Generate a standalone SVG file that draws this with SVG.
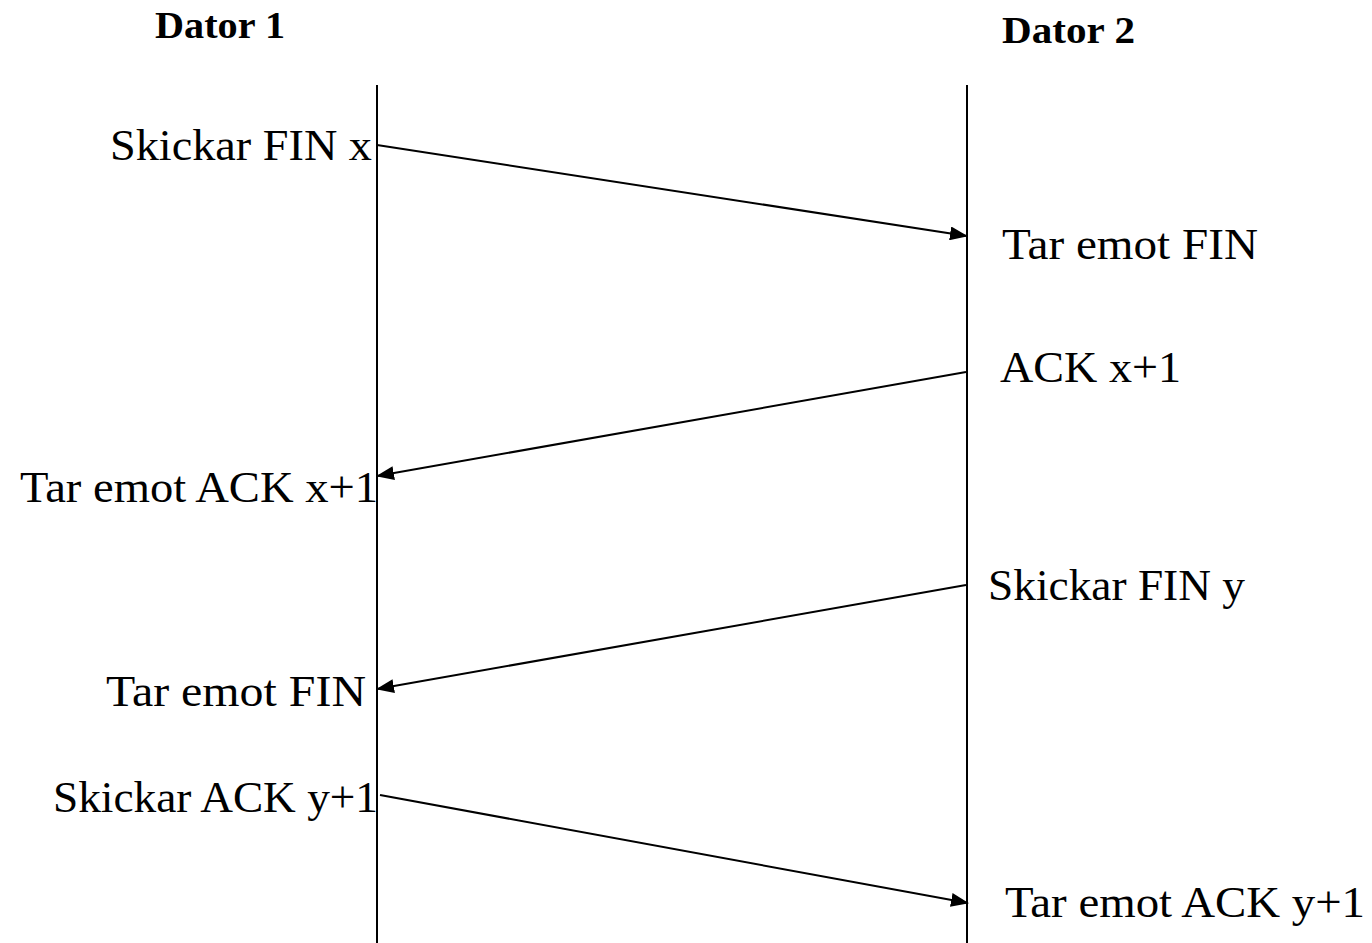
<svg xmlns="http://www.w3.org/2000/svg" width="1372" height="943" viewBox="0 0 1372 943">
<style>
.lbl{font-family:"Liberation Serif","Times New Roman",serif;font-size:45px;fill:#000}
.hdr{font-family:"Liberation Serif","Times New Roman",serif;font-size:37px;font-weight:bold;fill:#000}
.life{stroke:#000;stroke-width:2;fill:none}
.msg{stroke:#000;stroke-width:2;fill:none;marker-end:url(#ah)}
</style>
<defs>
<marker id="ah" markerUnits="userSpaceOnUse" markerWidth="18" markerHeight="14" refX="17" refY="7" orient="auto">
<path d="M0,0 L18,7 L0,14 z" fill="#000"/>
</marker>
</defs>
<rect width="1372" height="943" fill="#fff"/>
<g id="dator1">
<text class="hdr" x="155" y="38" textLength="130" lengthAdjust="spacingAndGlyphs">Dator 1</text>
<line class="life" x1="377" y1="85" x2="377" y2="943"/>
</g>
<g id="dator2">
<text class="hdr" x="1002" y="43" textLength="133" lengthAdjust="spacingAndGlyphs">Dator 2</text>
<line class="life" x1="967" y1="85" x2="967" y2="943"/>
</g>
<g id="labels">
<text class="lbl" x="110" y="160" textLength="262" lengthAdjust="spacingAndGlyphs">Skickar FIN x</text>
<text class="lbl" x="1002" y="259" textLength="256" lengthAdjust="spacingAndGlyphs">Tar emot FIN</text>
<text class="lbl" x="1000" y="382" textLength="181" lengthAdjust="spacingAndGlyphs">ACK x+1</text>
<text class="lbl" x="20" y="502" textLength="358" lengthAdjust="spacingAndGlyphs">Tar emot ACK x+1</text>
<text class="lbl" x="988" y="600" textLength="257" lengthAdjust="spacingAndGlyphs">Skickar FIN y</text>
<text class="lbl" x="106" y="706" textLength="260" lengthAdjust="spacingAndGlyphs">Tar emot FIN</text>
<text class="lbl" x="53" y="812" textLength="325" lengthAdjust="spacingAndGlyphs">Skickar ACK y+1</text>
<text class="lbl" x="1005" y="917" textLength="360" lengthAdjust="spacingAndGlyphs">Tar emot ACK y+1</text>
</g>
<g id="connectors">
<line class="msg" x1="377" y1="145" x2="967" y2="236"/>
<line class="msg" x1="966" y1="372" x2="377" y2="476"/>
<line class="msg" x1="966" y1="585" x2="377" y2="689"/>
<line class="msg" x1="380" y1="795" x2="968" y2="903"/>
</g>
</svg>
